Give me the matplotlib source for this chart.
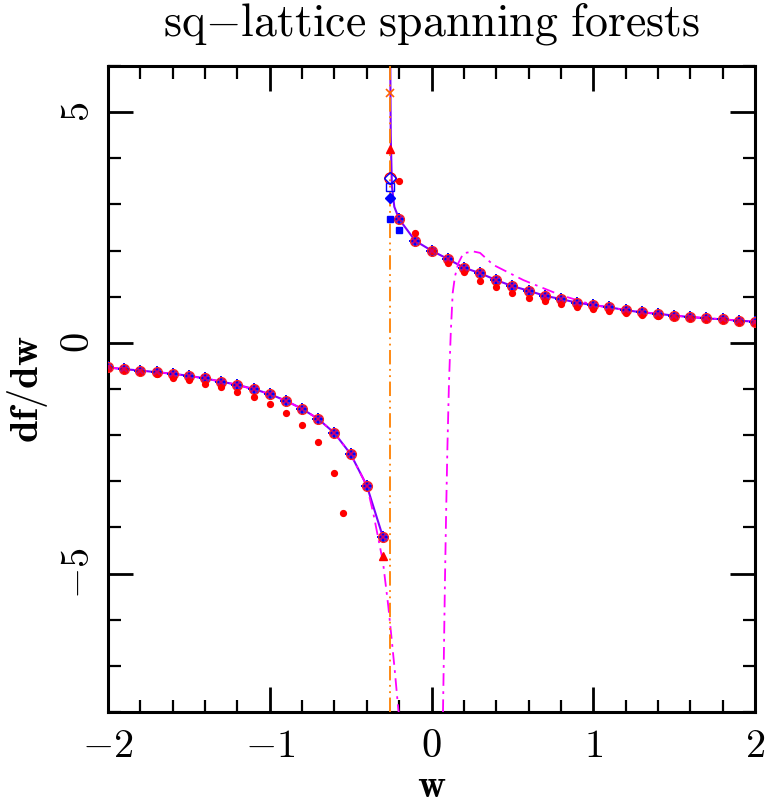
import numpy as np
import matplotlib
matplotlib.use("Agg")
import matplotlib.pyplot as plt
from matplotlib.ticker import MultipleLocator

plt.rcParams["mathtext.fontset"] = "cm"
plt.rcParams["axes.formatter.use_mathtext"] = True
plt.rcParams["font.family"] = ["cmr10", "DejaVu Sans"]

# 数据：w 网格与 df/dw 估计值
w_left = [-2.0, -1.9, -1.8, -1.7, -1.6, -1.5, -1.4, -1.3, -1.2, -1.1,
          -1.0, -0.9, -0.8, -0.7, -0.6, -0.5, -0.4, -0.3]
w_right = [-0.2, -0.1, 0.0, 0.1, 0.2, 0.3, 0.4, 0.5, 0.6, 0.7, 0.8, 0.9,
           1.0, 1.1, 1.2, 1.3, 1.4, 1.5, 1.6, 1.7, 1.8, 1.9, 2.0]
main_left = [-0.534, -0.57, -0.60, -0.635, -0.67, -0.714, -0.77, -0.84, -0.91, -1.00,
             -1.11, -1.255, -1.43, -1.65, -1.955, -2.41, -3.095, -4.21]
main_right = [2.68, 2.21, 2.00, 1.82, 1.63, 1.51, 1.36, 1.23, 1.13, 1.02, 0.95, 0.87,
              0.82, 0.77, 0.71, 0.66, 0.63, 0.59, 0.56, 0.53, 0.51, 0.48, 0.46]

# 红点（另一组估计）
dot_w = [-2.0, -1.9, -1.8, -1.7, -1.6, -1.5, -1.4, -1.3, -1.2, -1.1, -1.0, -0.9,
         -0.8, -0.7, -0.6, -0.55,
         -0.2, -0.1, 0.0, 0.1, 0.2, 0.3, 0.4, 0.5, 0.6, 0.7, 0.8, 0.9, 1.0,
         1.1, 1.2, 1.3, 1.4, 1.5, 1.6, 1.7, 1.8, 1.9, 2.0]
dot_y = [-0.55, -0.59, -0.63, -0.68, -0.757, -0.815, -0.887, -0.967, -1.07, -1.18, -1.33, -1.52,
         -1.775, -2.14, -2.83, -3.69,
         3.51, 2.37, 1.98, 1.72, 1.53, 1.35, 1.21, 1.08, 0.98, 0.91, 0.84, 0.77, 0.73,
         0.68, 0.64, 0.60, 0.59, 0.56, 0.53, 0.51, 0.49, 0.46, 0.44]

# 临界点
wc = -0.2563
crit_x_orange = 5.42
crit_triangle = 4.21
crit_circle = 3.58
crit_open_square = 3.38
crit_diamond = 3.13
crit_small_square = 2.68
small_square_m02 = 2.45
triangle_m03 = -4.63

# 近似曲线（品红点划线）
approx_left_w = [-2.0, -1.8, -1.6, -1.4, -1.2, -1.0, -0.9, -0.8, -0.7, -0.6, -0.5, -0.4,
                 -0.36, -0.313, -0.3, -0.287, -0.267, -0.246, -0.226, -0.209, -0.2]
approx_left_y = [-0.534, -0.60, -0.67, -0.77, -0.91, -1.11, -1.255, -1.43, -1.65, -1.955, -2.41, -3.095,
                 -3.69, -4.52, -4.75, -5.13, -5.71, -6.43, -7.14, -7.8, -8.1]
approx_right_w = [0.071, 0.077, 0.083, 0.090, 0.098, 0.108, 0.119, 0.131, 0.145, 0.166,
                  0.197, 0.218, 0.26, 0.30, 0.382, 0.568, 0.794, 1.0, 1.2, 1.5, 1.8, 2.0]
approx_right_y = [-8.0, -6.65, -5.2, -3.76, -2.32, -0.87, 0.21, 1.08, 1.44, 1.73,
                  1.94, 1.955, 1.98, 1.95, 1.69, 1.36, 1.04, 0.82, 0.71, 0.59, 0.51, 0.46]

# 紫色连线在临界点附近的延伸
purple_tail_w = [-0.23, -0.245, -0.252, -0.2555]
purple_tail_y = [2.95, 3.4, 4.5, 6.5]

fig = plt.figure(figsize=(7.66, 8.10), dpi=100)
ax = fig.add_axes([108 / 766, 98 / 810, 647 / 766, 646 / 810])

purple = "#8000ff"
ax.plot(w_left, main_left, color=purple, lw=1.5, zorder=2)
ax.plot(w_right[::-1] + purple_tail_w, main_right[::-1] + purple_tail_y,
        color=purple, lw=1.5, zorder=2)

ax.plot(approx_left_w, approx_left_y, color="#ff00ff", lw=1.3, dashes=(7, 3, 1.5, 3), zorder=3)
ax.plot(approx_right_w, approx_right_y, color="#ff00ff", lw=1.3, dashes=(7, 3, 1.5, 3), zorder=3)

ax.axvline(wc, color="#ff8000", lw=1.3, dashes=(8, 2.5, 1, 2.5, 1, 2.5), zorder=4)

all_w = w_left + w_right
all_y = main_left + main_right

ax.plot(all_w, all_y, "s", color="#0000ff", ms=5, zorder=5)
ax.plot(all_w, all_y, "D", color="#3030ff", ms=5, zorder=5)
ax.plot(all_w, all_y, "+", color="#0000ff", ms=9, mew=1.4, zorder=6)
ax.plot(all_w, all_y, "o", mfc="none", mec="#ff2020", ms=7, mew=1, zorder=6)
ax.plot(all_w, all_y, "x", color="#d00070", ms=5, mew=1.2, zorder=7)
ax.plot(w_left[-1], triangle_m03, "^", color="#ff0000", ms=6, zorder=6)
ax.plot(w_right[0], small_square_m02, "s", color="#0000ff", ms=4, zorder=6)

ax.plot(dot_w, dot_y, "o", color="#ff0000", ms=4.2, zorder=6)

ax.plot(wc, crit_x_orange, "x", color="#ff6000", ms=6, mew=1.2, zorder=7)
ax.plot(wc, crit_triangle, "^", color="#ff0000", ms=6, zorder=7)
ax.plot(wc, crit_circle, "o", mfc="none", mec="#ff0000", ms=8, mew=1, zorder=7)
ax.plot(wc, crit_circle, "D", mfc="none", mec="#0000ff", ms=6, mew=1, zorder=7)
ax.plot(wc, crit_open_square, "s", mfc="none", mec="#0000ff", ms=6, mew=1, zorder=7)
ax.plot(wc, crit_diamond, "D", color="#0000ff", ms=5, zorder=7)
ax.plot(wc, crit_small_square, "s", color="#0000ff", ms=4, zorder=7)

ax.set_xlim(-2, 2)
ax.set_ylim(-8, 6)
ax.xaxis.set_major_locator(MultipleLocator(1))
ax.xaxis.set_minor_locator(MultipleLocator(0.2))
ax.yaxis.set_major_locator(MultipleLocator(5))
ax.yaxis.set_minor_locator(MultipleLocator(1))
ax.tick_params(which="major", direction="in", top=True, right=True, length=18, width=2,
               labelsize=29)
ax.tick_params(axis="x", which="major", pad=12)
ax.tick_params(axis="y", which="major", pad=8)
ax.tick_params(which="minor", direction="in", top=True, right=True, length=9, width=1.6)
for lab in ax.get_yticklabels():
    lab.set_rotation(90)
    lab.set_va("center")
for sp in ax.spines.values():
    sp.set_linewidth(2.2)

ax.set_title(r"$\mathrm{sq{-}lattice\ spanning\ forests}$", fontsize=33, pad=22)
ax.set_xlabel(r"$\mathbf{w}$", fontsize=28, labelpad=3)
ax.set_ylabel(r"$\mathbf{df/dw}$", fontsize=29, labelpad=8)

fig.savefig("out.png", dpi=100)
